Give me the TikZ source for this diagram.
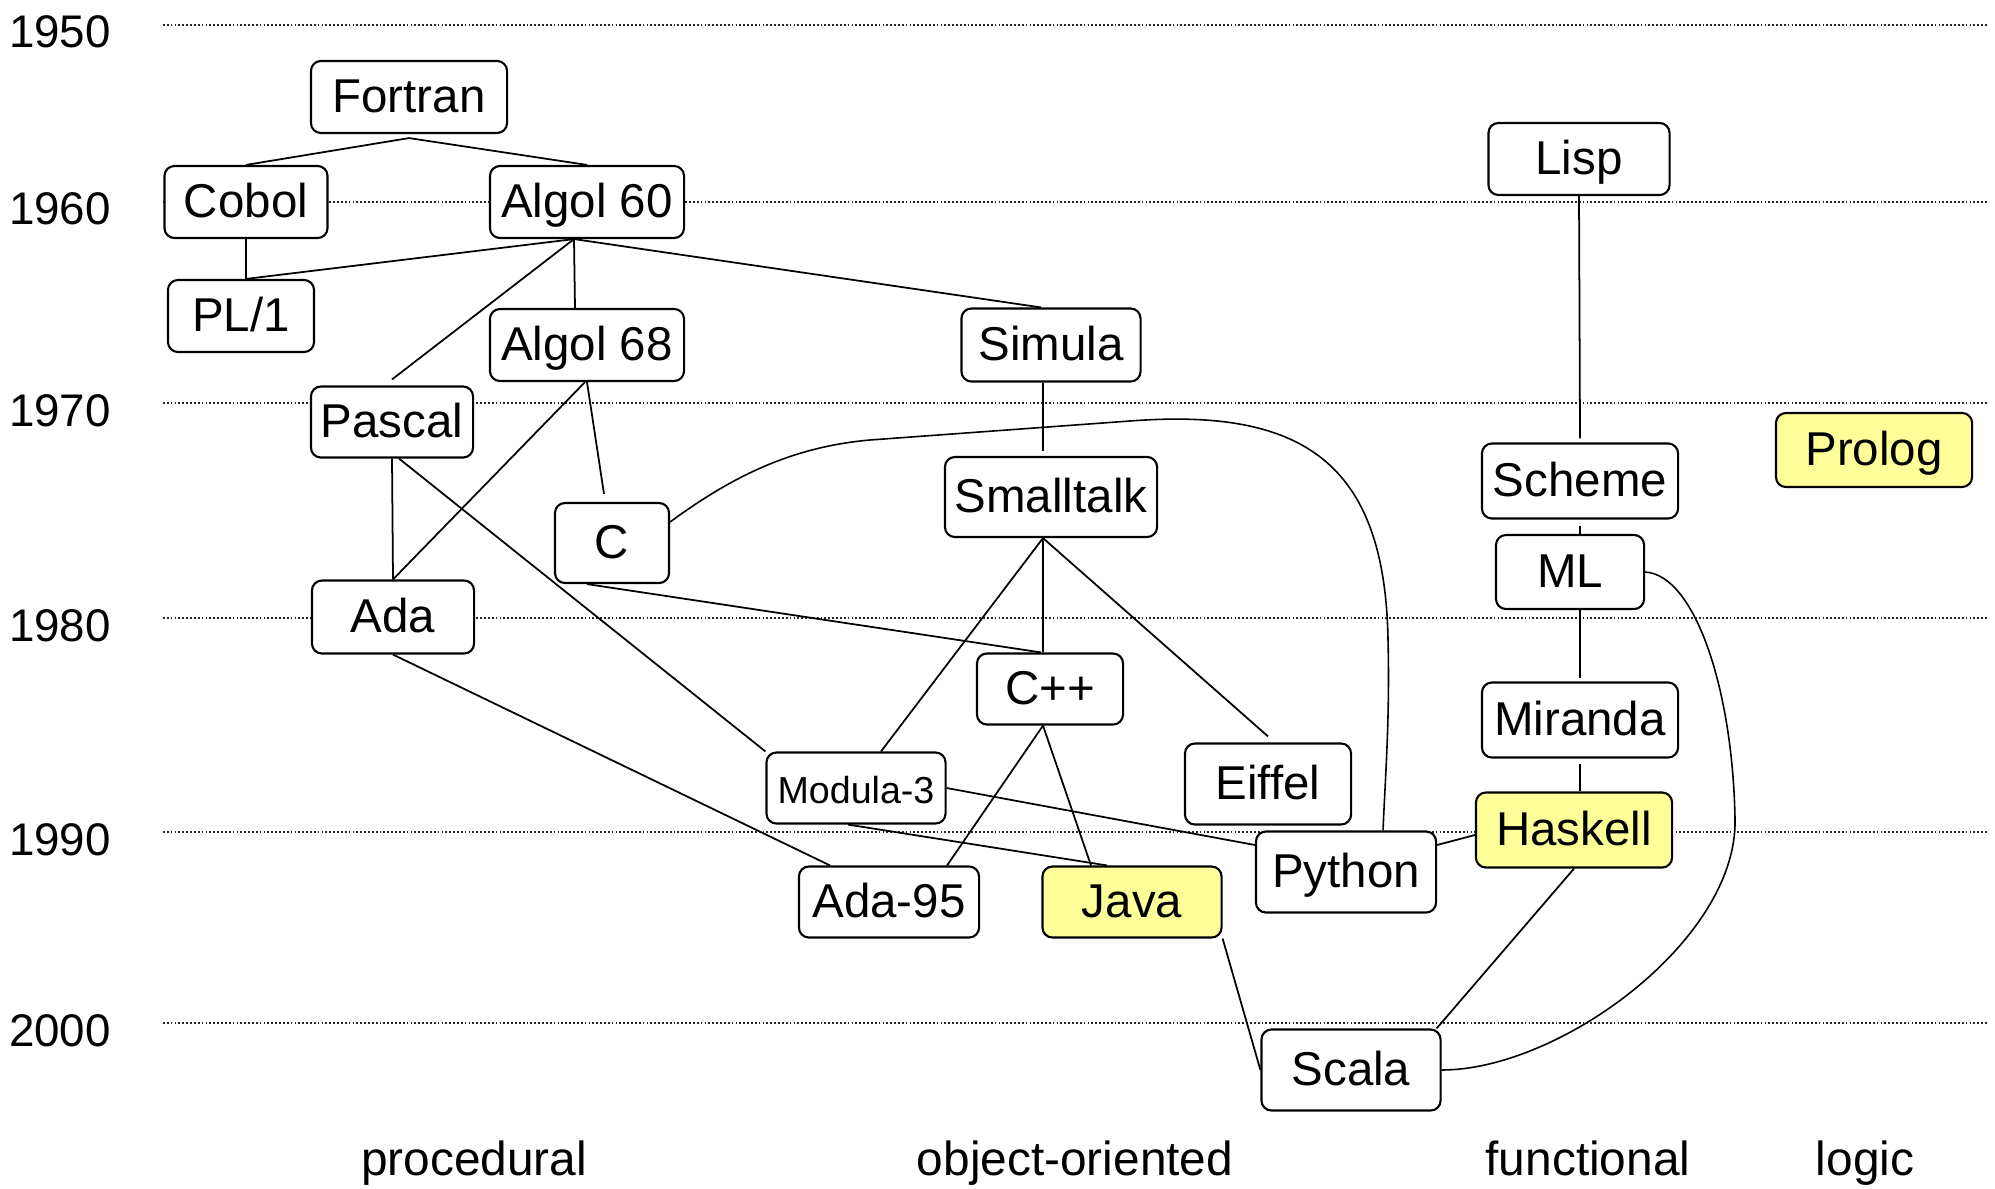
\documentclass[tikz,border=0pt]{standalone}
\usepackage{fontspec}
\setmainfont{Liberation Sans}
\definecolor{hlyellow}{HTML}{FFFF99}
\begin{document}
\begin{tikzpicture}[x=0.01cm,y=-0.01cm,
  lang/.style={draw, rounded corners=0.1cm, fill=white, line width=0.6pt, inner sep=0pt,
    text height=0.86em, text depth=0pt, font=\fontsize{13.5}{16}\selectfont},
  hl/.style={fill=hlyellow},
  link/.style={line width=0.5pt},
  curvelink/.style={line width=0.45pt},
  yearline/.style={black!85, line width=0.6pt, dash pattern=on 0.5pt off 0.6pt},
  year/.style={anchor=base, font=\fontsize{13}{15}\selectfont},
  cat/.style={anchor=base, font=\fontsize{13.6}{16}\selectfont}]
\useasboundingbox (0,0) rectangle (1995,1188);

% year grid
\foreach \yy/\lab in {25/1950,202/1960,403/1970,618/1980,832/1990,1023/2000}{
  \draw[yearline] (163,\yy) -- (1988,\yy);
  \node[year] (y\lab) at (60,\yy+23) {\lab};
}

% languages
\node[lang, minimum width=1.96cm, minimum height=0.72cm] (fortran) at (409,97) {Fortran};
\node[lang, minimum width=1.63cm, minimum height=0.72cm] (cobol) at (246,202) {Cobol};
\node[lang, minimum width=1.94cm, minimum height=0.72cm] (algol60) at (587,202) {Algol 60};
\node[lang, minimum width=1.46cm, minimum height=0.72cm] (pl1) at (241,316) {PL/1};
\node[lang, minimum width=1.94cm, minimum height=0.72cm] (algol68) at (587,345) {Algol 68};
\node[lang, minimum width=1.79cm, minimum height=0.73cm] (simula) at (1051,345) {Simula};
\node[lang, minimum width=1.81cm, minimum height=0.72cm] (lisp) at (1579,159) {Lisp};
\node[lang, minimum width=1.62cm, minimum height=0.71cm] (pascal) at (392,422) {Pascal};
\node[lang, minimum width=1.62cm, minimum height=0.73cm] (ada) at (393,617) {Ada};
\node[lang, minimum width=1.14cm, minimum height=0.80cm] (c) at (612,543) {C};
\node[lang, minimum width=2.12cm, minimum height=0.80cm] (smalltalk) at (1051,497) {Smalltalk};
\node[lang, minimum width=1.46cm, minimum height=0.71cm] (cpp) at (1050,689) {C++};
\node[lang, minimum width=1.79cm, minimum height=0.71cm, font=\fontsize{10.7}{12}\selectfont] (modula3) at (856,788) {Modula-3};
\node[lang, minimum width=1.66cm, minimum height=0.81cm] (eiffel) at (1268,784) {Eiffel};
\node[lang, minimum width=1.96cm, minimum height=0.75cm] (scheme) at (1580,481) {Scheme};
\node[lang, hl, minimum width=1.96cm, minimum height=0.74cm] (prolog) at (1874,450) {Prolog};
\node[lang, minimum width=1.48cm, minimum height=0.74cm] (ml) at (1570,572) {ML};
\node[lang, minimum width=1.96cm, minimum height=0.75cm] (miranda) at (1580,720) {Miranda};
\node[lang, hl, minimum width=1.96cm, minimum height=0.75cm] (haskell) at (1574,830) {Haskell};
\node[lang, minimum width=1.80cm, minimum height=0.81cm] (python) at (1346,872) {Python};
\node[lang, hl, minimum width=1.79cm, minimum height=0.71cm] (java) at (1132,902) {Java};
\node[lang, minimum width=1.80cm, minimum height=0.71cm] (ada95) at (889,902) {Ada-95};
\node[lang, minimum width=1.79cm, minimum height=0.81cm] (scala) at (1351,1070) {Scala};

% connectors
\draw[link] ([yshift=-0.04cm]fortran.south) -- (cobol.north);
\draw[link] ([yshift=-0.04cm]fortran.south) -- (algol60.north);
\draw[link] (cobol.south) -- (cobol.south |- pl1.north);
\draw[link] ([xshift=-0.13cm]algol60.south) -- (cobol.south |- pl1.north);
\draw[link] ([xshift=-0.13cm]algol60.south) -- ([xshift=-0.12cm]algol68.north);
\draw[link] ([xshift=-0.13cm]algol60.south) -- ([yshift=0.06cm]pascal.north);
\draw[link] ([xshift=-0.13cm]algol60.south) -- ([xshift=-0.10cm]simula.north);
\draw[link] ([xshift=-0.02cm]algol68.south) -- (ada.north);
\draw[link] (algol68.south) -- ([xshift=-0.08cm,yshift=0.08cm]c.north);
\draw[link] (pascal.south) -- (ada.north);
\draw[link] ([xshift=0.07cm]pascal.south) -- (modula3.north west);
\draw[link] (ada.south) -- ([xshift=-0.59cm]ada95.north);
\draw[link] ([xshift=-0.25cm]c.south) -- ([xshift=-0.09cm]cpp.north);
\draw[curvelink] ([yshift=0.21cm]c.east) .. controls (730,478) and (790,447) .. (870,440)
  -- (1130,421) .. controls (1300,408) and (1385,460) .. (1388,640)
  .. controls (1390,720) and (1385,780) .. ([xshift=0.37cm]python.north);
\draw[link] ([xshift=-0.08cm]simula.south) -- ([xshift=-0.08cm,yshift=0.05cm]smalltalk.north);
\draw[link] ([xshift=-0.08cm]smalltalk.south) -- ([xshift=-0.07cm]cpp.north);
\draw[link] ([xshift=-0.08cm]smalltalk.south) -- ([xshift=0.25cm]modula3.north);
\draw[link] ([xshift=-0.08cm]smalltalk.south) -- ([yshift=0.06cm]eiffel.north);
\draw[link] ([xshift=-0.07cm]cpp.south) -- ([xshift=0.58cm]ada95.north);
\draw[link] ([xshift=-0.07cm]cpp.south) -- ([xshift=-0.41cm]java.north);
\draw[link] ([xshift=-0.08cm]modula3.south) -- ([xshift=-0.25cm]java.north);
\draw[link] (modula3.east) -- ([yshift=0.27cm]python.west);
\draw[link] ([yshift=0.27cm]python.east) -- ([yshift=-0.05cm]haskell.west);
\draw[link] (java.south east) -- (scala.west);
\draw[link] (haskell.south) -- ([xshift=-0.05cm]scala.north east);
\draw[link] (lisp.south) -- ([yshift=0.04cm]scheme.north);
\draw[link] ([yshift=-0.06cm]scheme.south) -- (scheme.south |- ml.north);
\draw[link] (miranda.north |- ml.south) -- ([yshift=0.03cm]miranda.north);
\draw[link] ([yshift=-0.05cm]miranda.south) -- (miranda.south |- haskell.north);
\draw[curvelink] (ml.east) .. controls (1695,575) and (1733,690) .. (1735,820)
  .. controls (1737,940) and (1560,1070) .. (scala.east);

% paradigm labels
\node[cat] (procedural) at (474,1175) {procedural};
\node[cat] (oo) at (1075,1175) {object-oriented};
\node[cat] (functional) at (1588,1175) {functional};
\node[cat] (logic) at (1865,1175) {logic};
\end{tikzpicture}
\end{document}
